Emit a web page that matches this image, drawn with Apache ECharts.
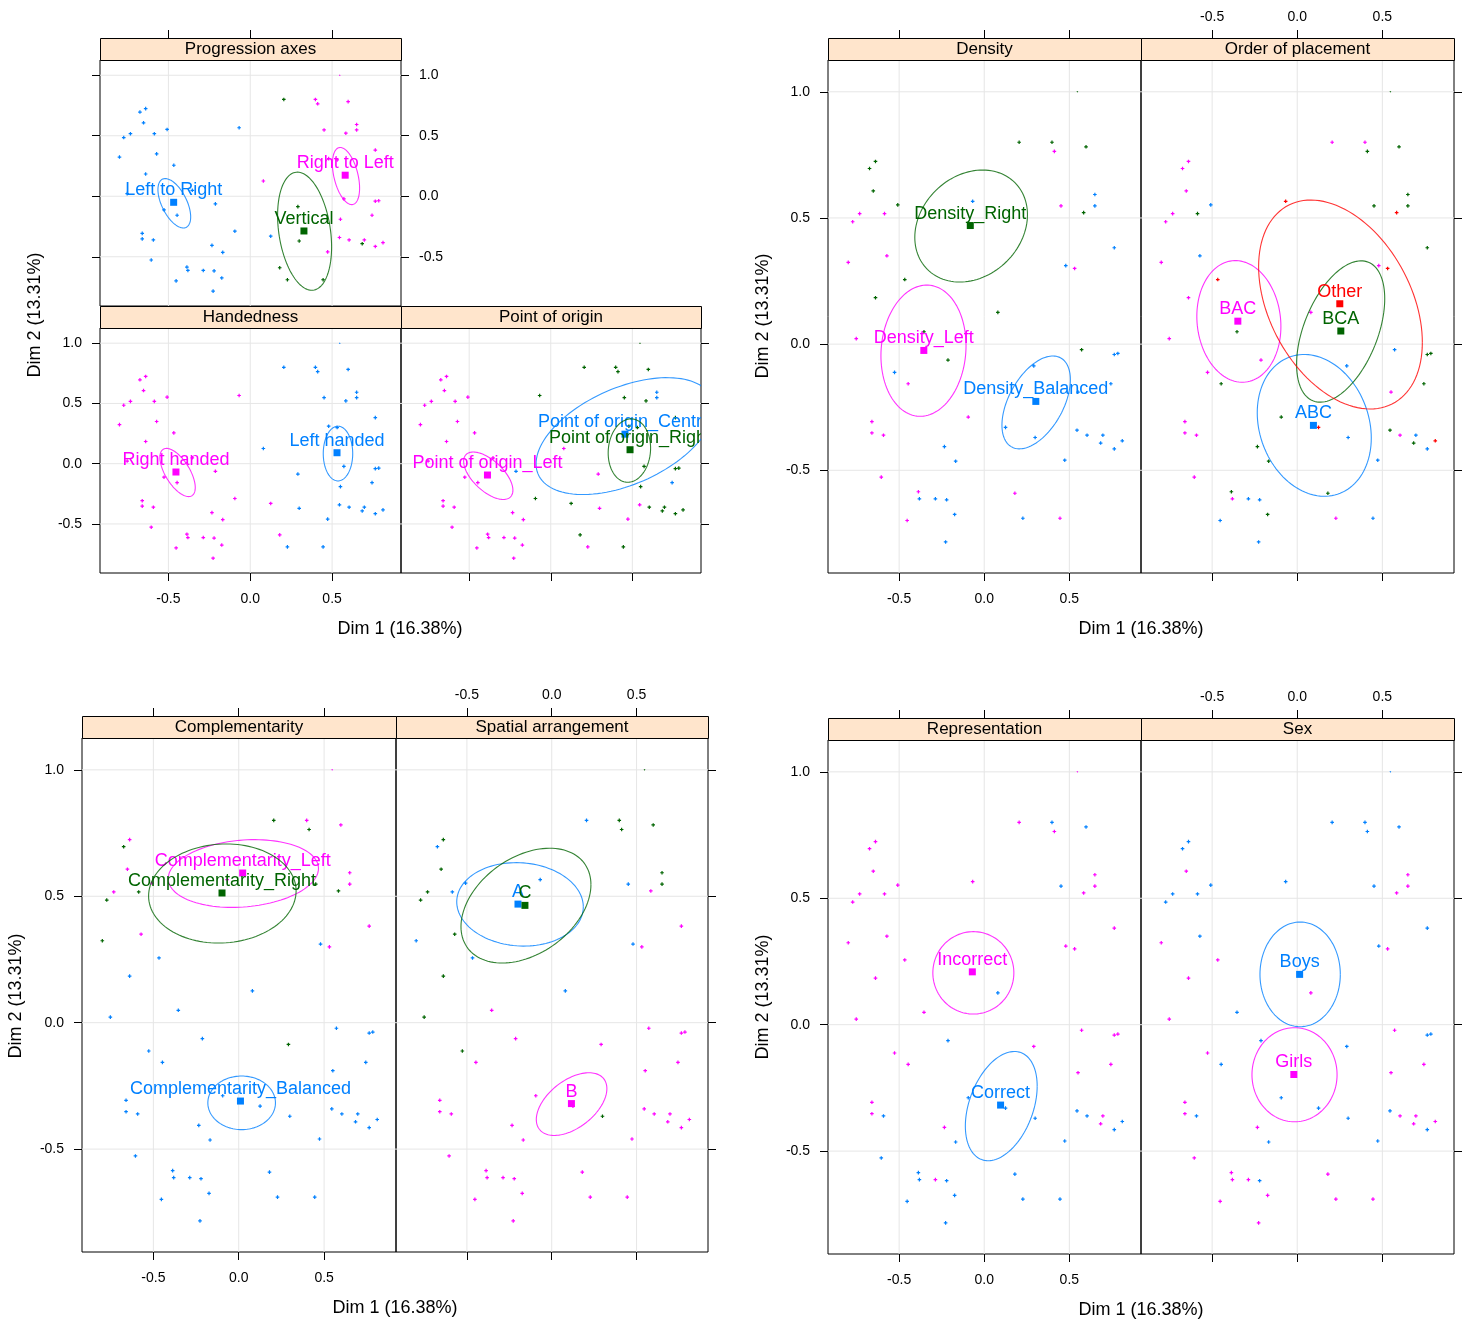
<!DOCTYPE html>
<html>
<head>
<meta charset="utf-8">
<script src="https://cdn.jsdelivr.net/npm/echarts@6/dist/echarts.min.js"></script>
<style>
html,body{margin:0;padding:0;background:#ffffff;}
#chart{width:1473px;height:1326px;}
</style>
</head>
<body>
<div id="chart"></div>
<script>
// ---------------- DATA ----------------
// individual coordinates on Dim 1 and Dim 2
const dim1 = [0.547,0.205,0.398,0.598,0.412,-0.639,-0.674,-0.652,-0.508,-0.068,
  0.451,0.650,0.650,0.584,-0.732,-0.586,-0.773,0.764,-0.799,-0.572,
  0.479,0.531,-0.467,-0.639,0.080,-0.752,-0.354,-0.213,0.572,0.764,
  0.785,-0.527,-0.447,0.291,0.744,0.551,-0.094,0.125,0.299,-0.660,
  -0.660,-0.592,-0.234,-0.168,0.545,0.604,0.697,0.684,0.811,0.764,
  0.473,-0.605,-0.387,-0.381,-0.287,-0.221,-0.174,-0.453,-0.227,0.180,
  0.227,0.445];
const dim2 = [1.000,0.800,0.800,0.782,0.764,0.724,0.696,0.607,0.552,0.566,
  0.548,0.593,0.548,0.521,0.517,0.517,0.485,0.382,0.324,0.350,
  0.311,0.300,0.256,0.184,0.126,0.022,0.049,-0.063,-0.022,-0.041,
  -0.037,-0.112,-0.157,-0.086,-0.157,-0.190,-0.289,-0.330,-0.370,-0.307,
  -0.352,-0.361,-0.406,-0.464,-0.341,-0.361,-0.361,-0.392,-0.383,-0.415,
  -0.460,-0.527,-0.585,-0.613,-0.613,-0.617,-0.675,-0.699,-0.784,-0.591,
  -0.690,-0.690];

const xTicks = [-0.5, 0, 0.5];
const yTicks = [-0.5, 0, 0.5, 1.0];
const dim1Title = 'Dim 1 (16.38%)';
const dim2Title = 'Dim 2 (13.31%)';

// Progression axes
const progCats = ['Left to Right', 'Right to Left', 'Vertical'];
const progGroup = [1,2,1,1,1,0,0,0,0,0, 1,1,1,1,0,0,0,1,0,0, 1,1,0,0,1,0,0,0,1,1,
  1,0,0,2,1,1,0,0,2,0, 0,0,0,0,1,1,1,2,1,1, 1,0,0,0,0,0,0,0,0,2, 2,2];
const progCentX = [-0.468, 0.580, 0.328];
const progCentY = [-0.050, 0.174, -0.287];
// ellipse: centre x, centre y, half width, half height, y-offset of rightmost point
const progEll = [[-0.464,-0.058,0.100,0.204,-0.113],[0.585,0.167,0.083,0.236,-0.100],[0.332,-0.289,0.165,0.488,-0.130]];

// Handedness
const handCats = ['Left handed', 'Right handed'];
const handGroup = [0,0,0,0,0,1,1,1,1,1, 0,0,0,0,1,1,1,0,1,1, 0,0,1,1,0,1,1,1,0,0,
  0,1,1,0,0,0,1,1,0,1, 1,1,1,1,0,0,0,0,0,0, 0,1,1,1,1,1,1,1,1,1, 0,0];
const handCentX = [0.530, -0.454];
const handCentY = [0.091, -0.069];
const handEll = [[0.536,0.084,0.090,0.227,0.0],[-0.444,-0.073,0.108,0.200,-0.125]];

// Point of origin
const originCats = ['Point of origin_Centre', 'Point of origin_Left', 'Point of origin_Right'];
const originGroup = [2,2,2,2,2,1,1,1,1,2, 2,0,0,2,1,1,1,2,1,1, 2,2,1,1,1,1,1,0,2,2,
  2,1,1,1,0,2,2,2,1,1, 1,1,1,1,1,2,2,2,2,2, 1,1,1,1,1,1,1,1,1,2, 1,2];
const originCentX = [0.455, -0.388, 0.486];
const originCentY = [0.245, -0.094, 0.116];
const originEll = [[0.455,0.229,0.545,0.485,0.230],[-0.383,-0.100,0.151,0.197,-0.120],[0.482,0.109,0.130,0.263,0.020]];

// Density
const densCats = ['Density_Balanced', 'Density_Left', 'Density_Right'];
const densGroup = [2,2,2,2,1,2,2,2,2,0, 1,0,0,2,1,1,1,0,1,1, 0,1,2,2,2,1,2,2,2,0,
  0,0,1,0,0,0,1,0,0,1, 1,1,0,0,0,0,0,0,0,0, 0,1,1,0,0,0,0,1,0,1, 0,1];
const densCentX = [0.303, -0.355, -0.082];
const densCentY = [-0.227, -0.025, 0.470];
const densEll = [[0.305,-0.231,0.201,0.184,0.090],[-0.357,-0.026,0.250,0.260,0.020],[-0.077,0.468,0.331,0.222,0.045]];

// Order of placement
const orderCats = ['ABC', 'BAC', 'BCA', 'Other'];
const orderGroup = [2,1,1,2,2,1,1,1,0,3, 2,2,2,3,1,2,1,2,1,0, 1,3,3,1,1,1,2,1,0,2,
  2,1,2,0,2,1,2,3,0,1, 1,1,2,2,2,1,0,2,3,0, 0,1,2,1,0,0,2,0,0,2, 1,0];
const orderCentX = [0.095, -0.349, 0.256, 0.250];
const orderCentY = [-0.322, 0.091, 0.052, 0.160];
const orderEll = [[0.100,-0.322,0.335,0.281,-0.050],[-0.343,0.090,0.247,0.241,-0.020],[0.255,0.050,0.259,0.280,0.130],[0.254,0.157,0.481,0.414,-0.150]];

// Complementarity
const compCats = ['Complementarity_Balanced', 'Complementarity_Left', 'Complementarity_Right'];
const compGroup = [1,2,1,1,2,1,2,1,1,1, 2,1,1,2,1,2,2,1,2,1, 0,1,0,0,0,0,0,0,0,0,
  0,0,0,2,0,0,0,0,0,0, 0,0,0,0,0,0,0,0,0,0, 0,0,0,0,0,0,0,0,0,0, 0,0];
const compCentX = [0.010, 0.023, -0.098];
const compCentY = [-0.310, 0.592, 0.513];
const compEll = [[0.017,-0.317,0.198,0.106,0.0],[0.027,0.590,0.440,0.134,0.020],[-0.096,0.511,0.432,0.196,0.010]];

// Spatial arrangement
const spatCats = ['A', 'B', 'C'];
const spatGroup = [2,0,2,2,2,2,0,2,0,0, 0,2,2,1,2,0,2,1,0,2, 0,1,0,2,0,2,1,1,1,1,
  1,2,1,1,1,1,1,1,2,1, 1,1,1,1,1,1,1,1,1,1, 1,1,1,1,1,1,1,1,1,1, 1,1];
const spatCentX = [-0.199, 0.116, -0.158];
const spatCentY = [0.469, -0.320, 0.464];
const spatEll = [[-0.187,0.468,0.373,0.165,-0.010],[0.117,-0.322,0.208,0.124,0.061],[-0.152,0.463,0.383,0.227,0.083]];

// Representation
const reprCats = ['Correct', 'Incorrect'];
const reprGroup = [1,1,0,0,1,1,1,1,1,1, 0,1,1,1,1,1,1,1,1,1, 1,1,1,1,0,1,1,0,1,1,
  1,1,1,1,1,1,0,0,0,1, 1,0,1,0,0,0,1,1,0,0, 0,0,0,0,1,0,0,0,0,0, 0,0];
const reprCentX = [0.096, -0.070];
const reprCentY = [-0.318, 0.209];
const reprEll = [[0.100,-0.322,0.211,0.216,0.079],[-0.064,0.205,0.238,0.163,0.0]];

// Sex
const sexCats = ['Boys', 'Girls'];
const sexGroup = [0,0,0,0,0,0,0,1,0,0, 0,1,1,1,0,0,0,0,1,0, 0,1,1,1,1,1,0,0,1,0,
  0,1,0,0,1,1,0,0,0,1, 1,0,1,0,0,1,1,1,1,0, 0,1,1,1,1,0,1,1,1,1, 1,1];
const sexCentX = [0.014, -0.020];
const sexCentY = [0.199, -0.197];
const sexEll = [[0.017,0.199,0.236,0.207,0.0],[-0.016,-0.198,0.250,0.186,0.0]];

// ---------------- STYLE / LAYOUT ----------------
const palette = ['#0080ff', '#ff00ff', '#006400', '#ff0000'];
const FONT = "'Liberation Sans', Arial, Helvetica, sans-serif";
const X_MIN = -0.918, X_MAX = 0.921, Y_MIN = -0.907, Y_MAX = 1.126;
const STRIP = 22;

// ax: b/t/l/r -> 0 none, 1 ticks, 2 ticks + labels
const panels = [
  {title:'Progression axes', cats:progCats, group:progGroup, cx:progCentX, cy:progCentY, ell:progEll, box:[100,60,301,246], ax:{b:0,t:1,l:1,r:2}},
  {title:'Handedness', cats:handCats, group:handGroup, cx:handCentX, cy:handCentY, ell:handEll, box:[100,328,301,245], ax:{b:2,t:0,l:2,r:0}},
  {title:'Point of origin', cats:originCats, group:originGroup, cx:originCentX, cy:originCentY, ell:originEll, box:[401,328,300,245], ax:{b:1,t:0,l:0,r:1}},
  {title:'Density', cats:densCats, group:densGroup, cx:densCentX, cy:densCentY, ell:densEll, box:[828,60,313,513], ax:{b:2,t:1,l:2,r:0}},
  {title:'Order of placement', cats:orderCats, group:orderGroup, cx:orderCentX, cy:orderCentY, ell:orderEll, box:[1141,60,313,513], ax:{b:1,t:2,l:0,r:1}},
  {title:'Complementarity', cats:compCats, group:compGroup, cx:compCentX, cy:compCentY, ell:compEll, box:[82,738,314,514], ax:{b:2,t:1,l:2,r:0}},
  {title:'Spatial arrangement', cats:spatCats, group:spatGroup, cx:spatCentX, cy:spatCentY, ell:spatEll, box:[396,738,312,514], ax:{b:1,t:2,l:0,r:1}},
  {title:'Representation', cats:reprCats, group:reprGroup, cx:reprCentX, cy:reprCentY, ell:reprEll, box:[828,740,313,514], ax:{b:2,t:1,l:2,r:0}},
  {title:'Sex', cats:sexCats, group:sexGroup, cx:sexCentX, cy:sexCentY, ell:sexEll, box:[1141,740,313,514], ax:{b:1,t:2,l:0,r:1}}
];

const axisTitles = [
  {text:dim1Title, x:400, y:629, rot:0},
  {text:dim2Title, x:35, y:315, rot:90},
  {text:dim1Title, x:1141, y:629, rot:0},
  {text:dim2Title, x:763, y:316, rot:90},
  {text:dim1Title, x:395, y:1308, rot:0},
  {text:dim2Title, x:16, y:996, rot:90},
  {text:dim1Title, x:1141, y:1310, rot:0},
  {text:dim2Title, x:763, y:997, rot:90}
];

const fmt = v => Number(v).toFixed(1);

function mkX(gi, pos, mode, offset) {
  return {
    gridIndex: gi, type: 'value', position: pos, offset: offset,
    min: X_MIN, max: X_MAX, show: mode > 0,
    axisLine: {show: false, onZero: false}, splitLine: {show: false},
    axisTick: {show: mode > 0, inside: false, length: 8, customValues: xTicks, lineStyle: {color: '#000', width: 1}},
    axisLabel: {show: mode === 2, customValues: xTicks, formatter: fmt, fontSize: 14, fontFamily: FONT, color: '#000', margin: pos === 'bottom' ? 19 : 14}
  };
}
function mkY(gi, pos, mode) {
  return {
    gridIndex: gi, type: 'value', position: pos,
    min: Y_MIN, max: Y_MAX, show: mode > 0,
    axisLine: {show: false, onZero: false}, splitLine: {show: false},
    axisTick: {show: mode > 0, inside: false, length: 8, customValues: yTicks, lineStyle: {color: '#000', width: 1}},
    axisLabel: {show: mode === 2, customValues: yTicks, formatter: fmt, fontSize: 14, fontFamily: FONT, color: '#000', margin: 18}
  };
}

const plusPath = 'path://M1,0H2V1H3V2H2V3H1V2H0V1H1Z';

const grids = [], xAxes = [], yAxes = [], series = [], graphics = [];

panels.forEach((p, gi) => {
  const [L, T, W, H] = p.box;
  grids.push({left: L, top: T, width: W, height: H, show: true, borderColor: '#000', borderWidth: 1,
    backgroundColor: 'rgba(0,0,0,0)', containLabel: false, outerBoundsMode: 'none'});
  xAxes.push(mkX(gi, 'bottom', p.ax.b, 0));
  xAxes.push(mkX(gi, 'top', p.ax.t, STRIP));
  yAxes.push(mkY(gi, 'left', p.ax.l));
  yAxes.push(mkY(gi, 'right', p.ax.r));
  const xi = 2 * gi, yi = 2 * gi;

  // reference (grid) lines
  series.push({
    type: 'custom', xAxisIndex: xi, yAxisIndex: yi, silent: true, z: 1, clip: true,
    data: xTicks.map(v => [v, 0]),
    renderItem: (params, api) => {
      const a = api.coord([api.value(0), Y_MIN]), b = api.coord([api.value(0), Y_MAX]);
      return {type: 'line', shape: {x1: a[0], y1: a[1], x2: b[0], y2: b[1]}, style: {stroke: '#e6e6e6', lineWidth: 1}};
    }
  });
  series.push({
    type: 'custom', xAxisIndex: xi, yAxisIndex: yi, silent: true, z: 1, clip: true,
    data: yTicks.map(v => [0, v]),
    renderItem: (params, api) => {
      const a = api.coord([X_MIN, api.value(1)]), b = api.coord([X_MAX, api.value(1)]);
      return {type: 'line', shape: {x1: a[0], y1: a[1], x2: b[0], y2: b[1]}, style: {stroke: '#e6e6e6', lineWidth: 1}};
    }
  });

  // individuals
  series.push({
    type: 'scatter', xAxisIndex: xi, yAxisIndex: yi, silent: true, z: 3,
    symbol: plusPath,
    symbolSize: (val, prm) => prm.dataIndex === 0 ? 1.6 : 3.6,
    data: dim1.map((x, i) => [x, dim2[i], p.group[i]]),
    itemStyle: {color: prm => palette[prm.value[2]], opacity: 1}
  });

  // ellipses, centroids, labels
  series.push({
    type: 'custom', xAxisIndex: xi, yAxisIndex: yi, silent: true, z: 4, clip: true,
    data: p.cats.map((c, i) => [p.cx[i], p.cy[i]]),
    renderItem: (params, api) => {
      const i = params.dataIndex;
      const [ecx, ecy, rx, ry, ky] = p.ell[i];
      const kz = Math.sqrt(Math.max(ry * ry - ky * ky, 0));
      const pts = [];
      for (let k = 0; k <= 120; k++) {
        const t = 2 * Math.PI * k / 120;
        pts.push(api.coord([ecx + rx * Math.cos(t), ecy + ky * Math.cos(t) + kz * Math.sin(t)]));
      }
      const c = api.coord([p.cx[i], p.cy[i]]);
      const col = palette[i];
      return {type: 'group', children: [
        {type: 'polyline', shape: {points: pts}, style: {stroke: col, fill: null, lineWidth: 1.1, opacity: 0.8}},
        {type: 'rect', shape: {x: c[0] - 3.5, y: c[1] - 3.5, width: 7, height: 7}, style: {fill: col}},
        {type: 'text', x: c[0], y: c[1] - 12, style: {text: p.cats[i], fill: col, fontSize: 18, fontFamily: FONT, align: 'center', verticalAlign: 'middle'}}
      ]};
    }
  });

  // strip
  graphics.push({type: 'rect', left: L, top: T - STRIP, silent: true, z: 10,
    shape: {width: W, height: STRIP}, style: {fill: '#ffe5cc', stroke: '#000', lineWidth: 1}});
  graphics.push({type: 'text', x: L + W / 2, y: T - STRIP / 2, silent: true, z: 11,
    style: {text: p.title, fill: '#000', fontSize: 17, fontFamily: FONT, align: 'center', verticalAlign: 'middle'}});
});

axisTitles.forEach(a => {
  graphics.push({type: 'text', x: a.x, y: a.y, rotation: a.rot * Math.PI / 180, silent: true, z: 11,
    style: {text: a.text, fill: '#000', fontSize: 18, fontFamily: FONT, align: 'center', verticalAlign: 'middle'}});
});

const chart = echarts.init(document.getElementById('chart'), null, {renderer: 'canvas'});
chart.setOption({
  animation: false,
  backgroundColor: '#ffffff',
  textStyle: {fontFamily: FONT},
  grid: grids,
  xAxis: xAxes,
  yAxis: yAxes,
  series: series,
  graphic: graphics
});
</script>
</body>
</html>
